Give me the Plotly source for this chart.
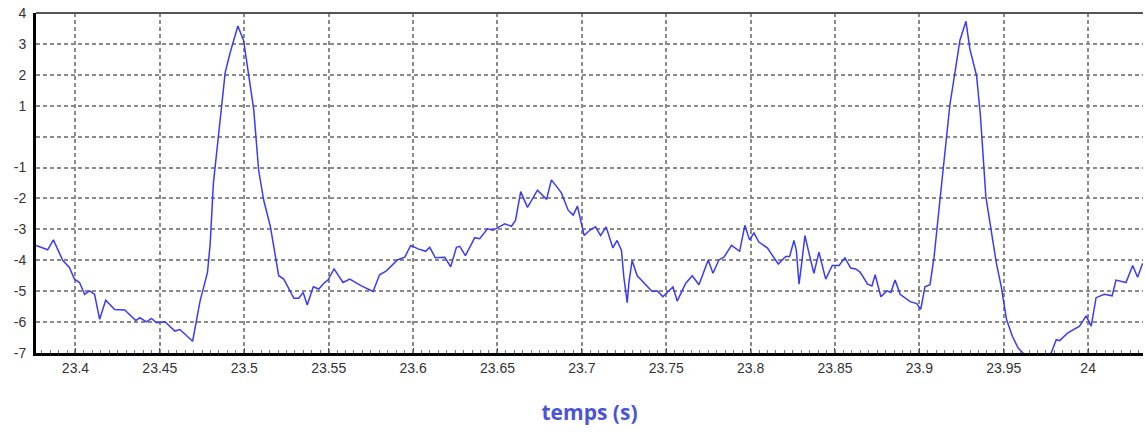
import plotly.graph_objects as go

# time (s) and signal
temps = [
    23.3766, 23.3835, 23.3869, 23.3925, 23.3964, 23.3994, 23.4024, 23.4054, 23.4083, 23.4113,
    23.4143, 23.4179, 23.4232, 23.4292, 23.4357, 23.4381, 23.4421, 23.4450, 23.4480, 23.4530,
    23.4589, 23.4619, 23.4694, 23.4738, 23.4782, 23.4798, 23.4817, 23.4847, 23.4867, 23.4887,
    23.4917, 23.4962, 23.4996, 23.5026, 23.5056, 23.5085, 23.5115, 23.5155, 23.5204, 23.5234,
    23.5294, 23.5323, 23.5349, 23.5373, 23.5409, 23.5441, 23.5476, 23.5496, 23.5532, 23.5585,
    23.5625, 23.5694, 23.5763, 23.5802, 23.5842, 23.5907, 23.5951, 23.5986, 23.6030, 23.6075,
    23.6099, 23.6132, 23.6188, 23.6223, 23.6257, 23.6277, 23.6310, 23.6366, 23.6395, 23.6441,
    23.6474, 23.6543, 23.6583, 23.6607, 23.6638, 23.6678, 23.6737, 23.6791, 23.6820, 23.6879,
    23.6919, 23.6949, 23.6974, 23.7014, 23.7047, 23.7081, 23.7111, 23.7144, 23.7184, 23.7209,
    23.7235, 23.7249, 23.7269, 23.7279, 23.7298, 23.7328, 23.7368, 23.7417, 23.7447, 23.7480,
    23.7540, 23.7565, 23.7615, 23.7654, 23.7694, 23.7749, 23.7777, 23.7812, 23.7842, 23.7887,
    23.7935, 23.7966, 23.7994, 23.8020, 23.8049, 23.8099, 23.8164, 23.8208, 23.8231, 23.8257,
    23.8271, 23.8287, 23.8302, 23.8322, 23.8342, 23.8375, 23.8405, 23.8445, 23.8484, 23.8524,
    23.8559, 23.8593, 23.8623, 23.8650, 23.8693, 23.8719, 23.8738, 23.8772, 23.8807, 23.8831,
    23.8856, 23.8886, 23.8945, 23.8984, 23.9008, 23.9033, 23.9063, 23.9087, 23.9122, 23.9152,
    23.9181, 23.9211, 23.9240, 23.9276, 23.9299, 23.9339, 23.9362, 23.9394, 23.9427, 23.9457,
    23.9486, 23.9516, 23.9551, 23.9585, 23.9614, 23.9660, 23.9720, 23.9781, 23.9811, 23.9831,
    23.9880, 23.9949, 23.9988, 24.0018, 24.0047, 24.0096, 24.0142, 24.0165, 24.0224, 24.0264,
    24.0293, 24.0323,
]
signal = [
    -3.52, -3.66, -3.34, -4.01, -4.23, -4.61, -4.72, -5.10, -4.99, -5.10,
    -5.91, -5.29, -5.59, -5.61, -5.95, -5.86, -5.99, -5.88, -6.02, -5.99,
    -6.29, -6.24, -6.62, -5.32, -4.39, -3.47, -1.51, 0.12, 1.21, 2.08,
    2.73, 3.58, 3.11, 1.97, 0.88, -1.08, -2.05, -2.92, -4.50, -4.61,
    -5.23, -5.23, -5.04, -5.45, -4.86, -4.93, -4.72, -4.64, -4.28, -4.72,
    -4.61, -4.83, -5.01, -4.47, -4.34, -3.99, -3.90, -3.52, -3.63, -3.71,
    -3.58, -3.92, -3.90, -4.21, -3.58, -3.55, -3.85, -3.27, -3.30, -2.98,
    -3.03, -2.82, -2.90, -2.71, -1.78, -2.29, -1.73, -2.03, -1.40, -1.82,
    -2.38, -2.54, -2.25, -3.20, -3.03, -2.92, -3.20, -2.92, -3.60, -3.36,
    -3.68, -4.55, -5.37, -4.72, -4.01, -4.50, -4.72, -5.01, -4.99, -5.18,
    -4.86, -5.32, -4.75, -4.50, -4.79, -3.99, -4.42, -3.99, -3.90, -3.52,
    -3.71, -2.87, -3.34, -3.12, -3.41, -3.60, -4.12, -3.88, -3.88, -3.36,
    -3.68, -4.77, -4.12, -3.20, -3.68, -4.42, -3.74, -4.61, -4.17, -4.17,
    -3.92, -4.25, -4.28, -4.39, -4.77, -4.83, -4.47, -5.18, -4.99, -5.04,
    -4.64, -5.10, -5.34, -5.40, -5.59, -4.86, -4.79, -3.90, -2.05, -0.42,
    1.04, 2.08, 3.11, 3.73, 2.84, 1.97, 0.66, -1.95, -3.03, -4.12,
    -4.88, -5.91, -6.46, -6.84, -7.00, -7.30, -7.35, -7.00, -6.57, -6.60,
    -6.35, -6.13, -5.80, -6.13, -5.21, -5.10, -5.15, -4.64, -4.72, -4.17,
    -4.55, -4.10,
]

x_ticks = [23.4, 23.45, 23.5, 23.55, 23.6, 23.65, 23.7, 23.75, 23.8, 23.85, 23.9, 23.95, 24.0]
x_labels = ["23.4", "23.45", "23.5", "23.55", "23.6", "23.65", "23.7",
            "23.75", "23.8", "23.85", "23.9", "23.95", "24"]
y_ticks = [4, 3, 2, 1, 0, -1, -2, -3, -4, -5, -6, -7]
y_labels = ["4", "3", "2", "1", "", "-1", "-2", "-3", "-4", "-5", "-6", "-7"]

grid = "#8a8a8a"
tick_font = dict(family="Arial, Liberation Sans, sans-serif", size=14, color="#333333")

fig = go.Figure()
fig.add_trace(go.Scatter(
    x=temps, y=signal, mode="lines",
    line=dict(color="#3b3bf5", width=1.5),
    showlegend=False, hoverinfo="skip",
))

fig.update_layout(
    width=1145, height=435,
    margin=dict(l=36, r=2, t=13, b=82),
    paper_bgcolor="white", plot_bgcolor="white",
    xaxis=dict(
        range=[23.3766, 24.0325],
        automargin=False,
        tickvals=x_ticks, ticktext=x_labels,
        tickfont=tick_font,
        showgrid=True, gridcolor=grid, gridwidth=1.5, griddash="4px,3px",
        zeroline=False,
        showline=True, linecolor="black", linewidth=3,
        ticks="inside", ticklen=5, tickcolor="#555555",
        minor=dict(dtick=0.005, tick0=23.4, ticks="inside", ticklen=3,
                   tickcolor="#777777", showgrid=False),
        title=dict(text="<b>temps (s)</b>",
                   font=dict(family="Open Sans, sans-serif", size=21, color="#4a55d6"),
                   standoff=31),
    ),
    yaxis=dict(
        range=[-7, 4],
        automargin=False,
        tickvals=y_ticks, ticktext=y_labels,
        tickfont=tick_font,
        showgrid=True, gridcolor=grid, gridwidth=1.5, griddash="4px,3px",
        zeroline=False,
        showline=True, linecolor="black", linewidth=3,
        ticks="", ticklabelstandoff=4,
    ),
    shapes=[dict(type="line", xref="paper", yref="paper", x0=0, x1=1, y0=1, y1=1,
                 line=dict(color="#555555", width=2))],
)

# drop the default body margin so the figure fills the window exactly
fig.write_html("out.html", config={"displayModeBar": False},
               post_script="document.body.style.margin='0';")
